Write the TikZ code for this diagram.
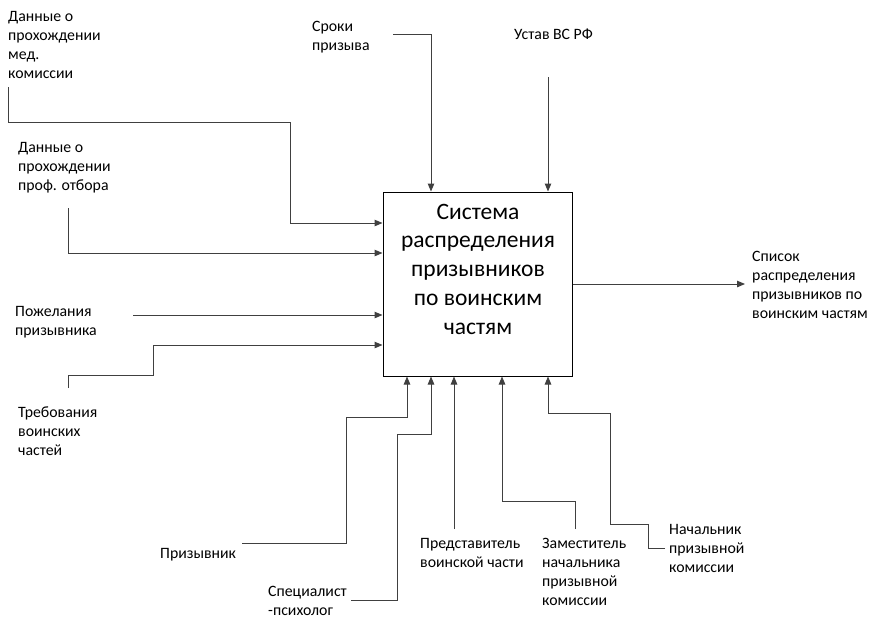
\documentclass[tikz,border=0pt]{standalone}
\usepackage{fontspec}
\setmainfont{Carlito}
\usepackage{xcolor}
\definecolor{idefLine}{RGB}{64,64,64}
\definecolor{idefDark}{RGB}{0,0,0}
\usetikzlibrary{arrows.meta,positioning}

\begin{document}
\begin{tikzpicture}[
    x=1pt, y=-1pt,
    sysBox/.style={
        rectangle, draw=idefDark, line width=1pt,
        minimum width=189pt, minimum height=184pt, inner sep=0pt
    },
    sysText/.style={
        font=\fontsize{23.5}{28.75}\selectfont, align=center,
        inner sep=0pt, anchor=base
    },
    flowLabel/.style={
        font=\fontsize{15.8}{19}\selectfont, align=left,
        inner sep=0pt, anchor=base west
    },
    flowArrow/.style={
        -{Triangle[length=8pt,width=6.5pt]}, line width=1pt, draw=idefLine
    }
]
    \useasboundingbox (0,0) rectangle (878,627);

    % Function box
    \node[sysBox] (sys) at (477.5,284) {};
    \node[sysText] (sysName) at (478,334) {Система\\распределения\\призывников\\по воинским\\частям};

    % Labels (placed at the baseline of their last line)
    \node[flowLabel] (lblMed) at (8,78) {Данные о\\прохождении\\мед.\\комиссии};
    \node[flowLabel] (lblProf) at (18,190) {Данные о\\прохождении\\проф. отбора};
    \node[flowLabel] (lblWish) at (15,335) {Пожелания\\призывника};
    \node[flowLabel] (lblReq) at (18,455) {Требования\\воинских\\частей};
    \node[flowLabel] (lblTerms) at (312,50) {Сроки\\призыва};
    \node[flowLabel] (lblCharter) at (514,39) {Устав ВС РФ};
    \node[flowLabel] (lblOut) at (752,318) {Список\\распределения\\призывников по\\воинским частям};
    \node[flowLabel] (lblConscript) at (160,558) {Призывник};
    \node[flowLabel] (lblPsych) at (268,615) {Специалист\\-психолог};
    \node[flowLabel] (lblRep) at (420,567) {Представитель\\воинской части};
    \node[flowLabel] (lblDeputy) at (542,605) {Заместитель\\начальника\\призывной\\комиссии};
    \node[flowLabel] (lblHead) at (669,572) {Начальник\\призывной\\комиссии};

    % Free ends
    \coordinate (inMed) at (8,87);
    \coordinate (inProf) at (68,208);
    \coordinate (inWish) at (133,315);
    \coordinate (inReq) at (68,388);
    \coordinate (ctrlTerms) at (393,34);
    \coordinate (ctrlCharter) at (548,77);
    \coordinate (outList) at (745,284);
    \coordinate (mechConscript) at (242,543);
    \coordinate (mechPsych) at (351,600);
    \coordinate (mechRep) at (454,529);
    \coordinate (mechDeputy) at (575,529);
    \coordinate (mechHead) at (665,548);

    % Inputs
    \draw[flowArrow] (inMed) -- (8,122) -- (290,122) -- (290,223) -- (sys.west |- 0,223);
    \draw[flowArrow] (inProf) -- (68,253) -- (sys.west |- 0,253);
    \draw[flowArrow] (inWish) -- (sys.west |- 0,315);
    \draw[flowArrow] (inReq) -- (68,375) -- (153,375) -- (153,345) -- (sys.west |- 0,345);

    % Controls
    \draw[flowArrow] (ctrlTerms) -- (431,34) -- (sys.north -| 431,0);
    \draw[flowArrow] (ctrlCharter) -- (sys.north -| 548,0);

    % Output
    \draw[flowArrow] (sys.east |- 0,284) -- (outList);

    % Mechanisms
    \draw[flowArrow] (mechConscript) -- (346,543) -- (346,417) -- (407,417) -- (sys.south -| 407,0);
    \draw[flowArrow] (mechPsych) -- (397,600) -- (397,434) -- (431,434) -- (sys.south -| 431,0);
    \draw[flowArrow] (mechRep) -- (sys.south -| 454,0);
    \draw[flowArrow] (mechDeputy) -- (575,501) -- (502,501) -- (sys.south -| 502,0);
    \draw[flowArrow] (mechHead) -- (648,548) -- (648,524) -- (610,524) -- (610,413) -- (548,413) -- (sys.south -| 548,0);

\end{tikzpicture}
\end{document}
